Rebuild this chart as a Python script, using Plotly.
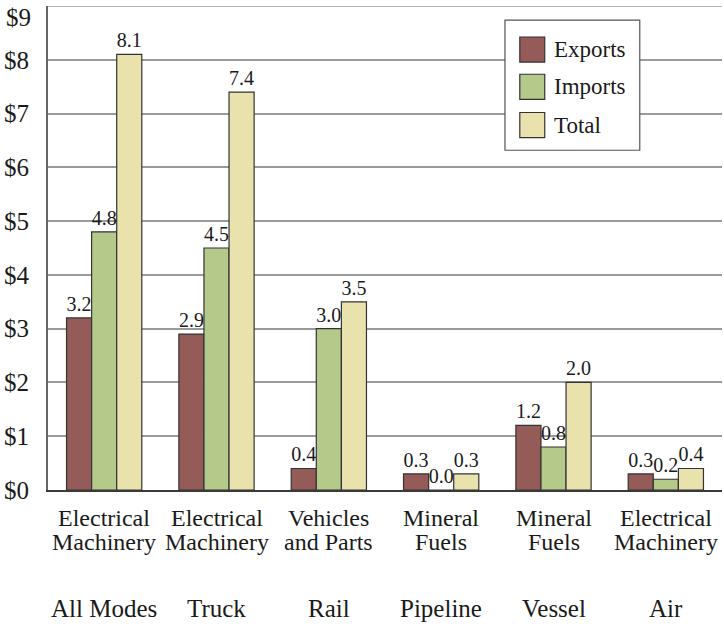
import plotly.graph_objects as go

# Top commodity by mode of transportation, billions of dollars
modes = ["All Modes", "Truck", "Rail", "Pipeline", "Vessel", "Air"]
commodity_line1 = ["Electrical", "Electrical", "Vehicles", "Mineral", "Mineral", "Electrical"]
commodity_line2 = ["Machinery", "Machinery", "and Parts", "Fuels", "Fuels", "Machinery"]
exports = [3.2, 2.9, 0.4, 0.3, 1.2, 0.3]
imports = [4.8, 4.5, 3.0, 0.0, 0.8, 0.2]
total = [8.1, 7.4, 3.5, 0.3, 2.0, 0.4]

y_ticks = list(range(0, 9))
y_tick_text = [f"${v}" for v in y_ticks]
y_top = 9

FONT = "Liberation Serif"
TXT = "#1a1a1a"
series = [
    ("Exports", exports, "#955b58"),
    ("Imports", imports, "#b5c98b"),
    ("Total", total, "#e9e2ad"),
]

fig = go.Figure()
x_pos = list(range(len(modes)))
for name, vals, color in series:
    fig.add_trace(go.Bar(
        name=name,
        x=x_pos,
        y=vals,
        marker=dict(color=color, line=dict(color="#333333", width=1.2)),
        text=[f"{v:.1f}" for v in vals],
        textposition="outside",
        cliponaxis=False,
        textfont=dict(family=FONT, size=20, color=TXT),
        showlegend=False,
    ))

# two-line commodity labels and mode names under each group
for i in x_pos:
    fig.add_annotation(x=i, y=-0.058, xref="x", yref="paper", text=commodity_line1[i],
                       showarrow=False, yanchor="middle",
                       font=dict(family=FONT, size=24, color=TXT))
    fig.add_annotation(x=i, y=-0.107, xref="x", yref="paper", text=commodity_line2[i],
                       showarrow=False, yanchor="middle",
                       font=dict(family=FONT, size=24, color=TXT))
    fig.add_annotation(x=i, y=-0.244, xref="x", yref="paper", text=modes[i],
                       showarrow=False, yanchor="middle",
                       font=dict(family=FONT, size=25, color=TXT))

# top tick label sits just under the frame
fig.add_annotation(x=0, y=y_top, xref="paper", yref="y", text=f"${y_top}",
                   showarrow=False, xanchor="right", yanchor="middle",
                   xshift=-15, yshift=-11,
                   font=dict(family=FONT, size=25, color=TXT))

# legend box with square swatches
fig.add_shape(type="rect", xref="paper", yref="paper",
              x0=0.678, x1=0.878, y0=0.702, y1=0.971,
              fillcolor="white", line=dict(color="#555555", width=1.2), layer="above")
legend_y = [0.910, 0.833, 0.754]
for (name, _, color), ly in zip(series, legend_y):
    fig.add_shape(type="rect", xref="paper", yref="paper",
                  x0=0.700, x1=0.737, y0=ly - 0.026, y1=ly + 0.026,
                  fillcolor=color, line=dict(color="#333333", width=1.2), layer="above")
    fig.add_annotation(x=0.748, y=ly, xref="paper", yref="paper", text=name,
                       showarrow=False, xanchor="left", yanchor="middle",
                       font=dict(family=FONT, size=23, color=TXT))

fig.update_layout(
    width=724, height=624,
    margin=dict(l=48, r=2, t=6, b=134),
    paper_bgcolor="white", plot_bgcolor="white",
    barmode="group", bargap=0.33, bargroupgap=0,
    font=dict(family=FONT, color=TXT),
    showlegend=False,
)
fig.update_xaxes(
    range=[-0.5, len(modes) - 0.5],
    showticklabels=False,
    showline=True, linecolor="#3a3a3a", linewidth=2.2,
    ticks="", showgrid=False, zeroline=False,
)
fig.update_yaxes(
    range=[0, y_top], tickmode="array", tickvals=y_ticks, ticktext=y_tick_text,
    tickfont=dict(family=FONT, size=25, color=TXT),
    ticklabelstandoff=12,
    showgrid=True, gridcolor="#9b9b9b", gridwidth=1.6,
    showline=True, linecolor="#666666", linewidth=2,
    mirror=False, zeroline=False, ticks="",
)
# gridline along the top of the value range
fig.add_hline(y=y_top, line=dict(color="#9b9b9b", width=1.6))

fig.write_html("out.html")
